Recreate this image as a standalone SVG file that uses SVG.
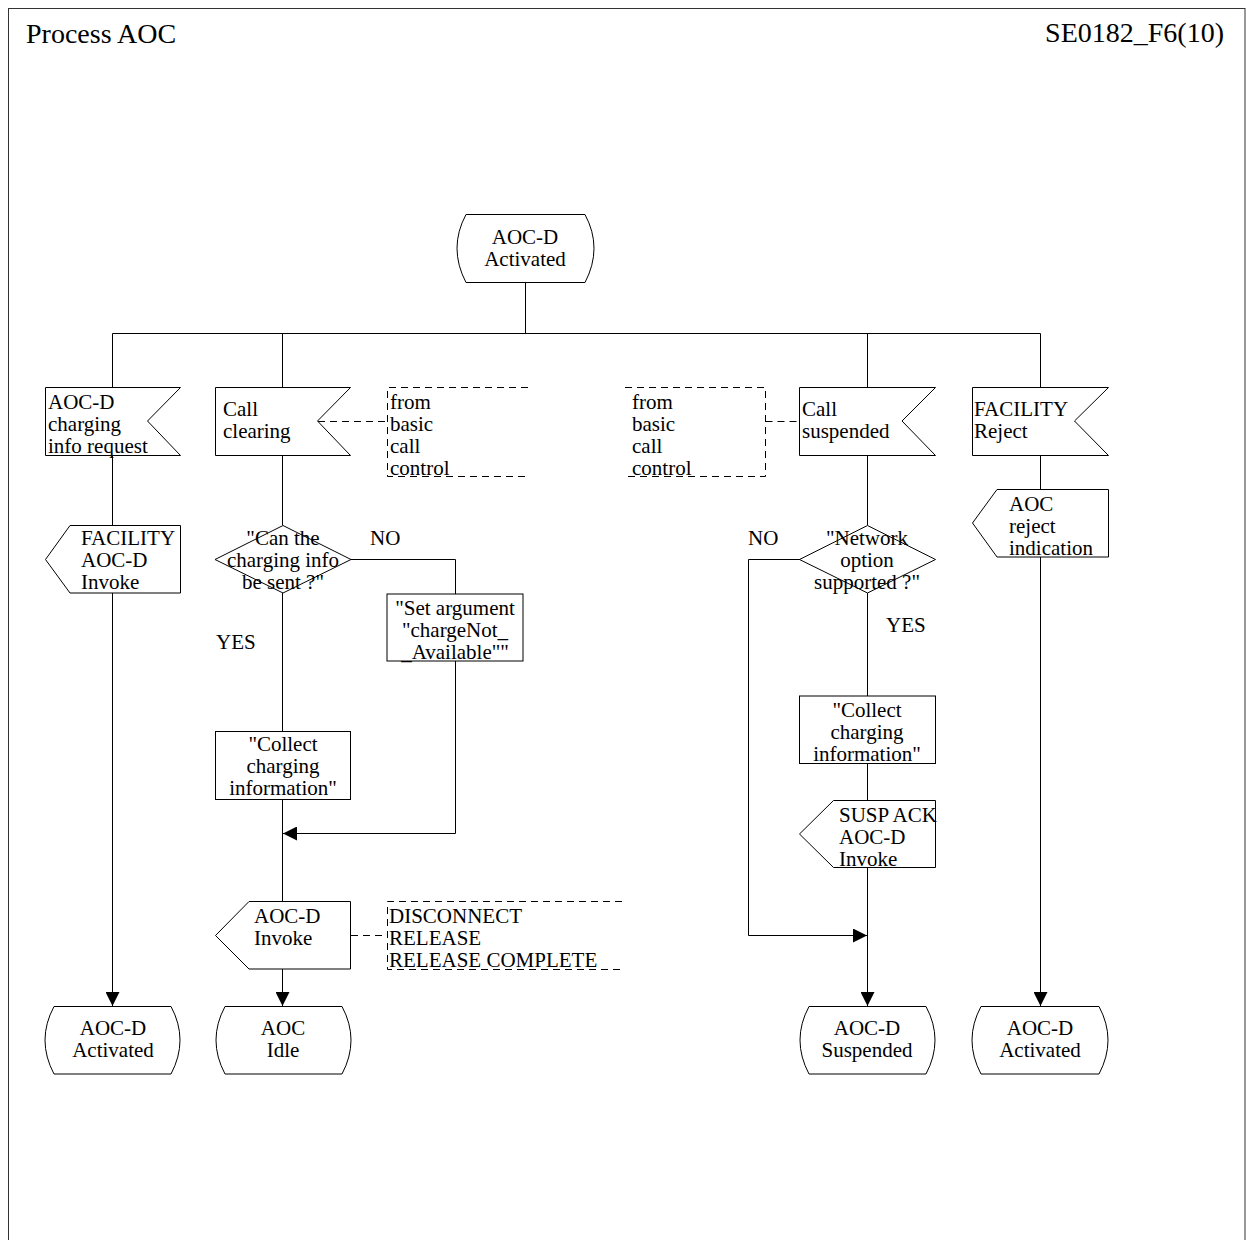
<svg xmlns="http://www.w3.org/2000/svg" width="1246" height="1240" viewBox="0 0 1246 1240">
  <defs>
    <style>
      text { font-family: "Liberation Serif", "Times New Roman", serif; font-size: 21px; fill: #000; }
      .title { font-size: 28px; }
      .c { text-anchor: middle; }
      .shape { fill: #fff; stroke: #000; stroke-width: 1; }
      .line { fill: none; stroke: #000; stroke-width: 1; }
      .dash { fill: none; stroke: #000; stroke-width: 1; stroke-dasharray: 7 5; }
    </style>
    <marker id="arrow" viewBox="0 0 14 14" refX="14" refY="7" markerWidth="14" markerHeight="14" markerUnits="userSpaceOnUse" orient="auto">
      <path d="M0,0 L14,7 L0,14 Z" fill="#000"/>
    </marker>
  </defs>

  <rect x="0" y="0" width="1246" height="1240" fill="#fff"/>

  <!-- page frame and heading -->
  <rect x="8.5" y="8.5" width="1236.5" height="1250" fill="none" stroke="#333" stroke-width="1"/>
  <text class="title" x="26" y="43">Process AOC</text>
  <text class="title" x="1224" y="42" text-anchor="end">SE0182_F6(10)</text>

  <!-- connectors -->
  <g id="connectors">
    <!-- from start state to the signal bus -->
    <path class="line" d="M525.5,282 V333.5"/>
    <path class="line" d="M112.5,333.5 H1040.5"/>
    <path class="line" d="M112.5,333.5 V387"/>
    <path class="line" d="M282.5,333.5 V387"/>
    <path class="line" d="M867.5,333.5 V387"/>
    <path class="line" d="M1040.5,333.5 V387"/>

    <!-- column 1 -->
    <path class="line" d="M112.5,455 V525"/>
    <path class="line" d="M112.5,593 V1006" marker-end="url(#arrow)"/>

    <!-- column 2 -->
    <path class="line" d="M282.5,455 V525"/>
    <path class="line" d="M351,559.5 H455.5 V594"/>
    <path class="line" d="M282.5,593 V731"/>
    <path class="line" d="M455.5,661 V833.5 H283" marker-end="url(#arrow)"/>
    <path class="line" d="M282.5,800 V901"/>
    <path class="line" d="M282.5,969 V1006" marker-end="url(#arrow)"/>

    <!-- column 3 -->
    <path class="line" d="M867.5,455 V525"/>
    <path class="line" d="M800,559.5 H748.5 V935.5 H867" marker-end="url(#arrow)"/>
    <path class="line" d="M867.5,593 V696"/>
    <path class="line" d="M867.5,764 V800"/>
    <path class="line" d="M867.5,868 V1006" marker-end="url(#arrow)"/>

    <!-- column 4 -->
    <path class="line" d="M1040.5,455 V489"/>
    <path class="line" d="M1040.5,557 V1006" marker-end="url(#arrow)"/>

    <!-- comment links -->
    <path class="dash" d="M318,421.5 H387.5"/>
    <path class="dash" d="M765.5,421.5 H800"/>
    <path class="dash" d="M351,935.5 H387.5"/>
  </g>

  <!-- start state -->
  <g id="start-activated">
    <path class="shape" d="M466,214.5 H585 Q603,248 585,282.5 H466 Q448,248 466,214.5 Z"/>
    <text class="c" x="525" y="244">AOC-D</text>
    <text class="c" x="525" y="266">Activated</text>
  </g>

  <!-- input: AOC-D charging info request -->
  <g id="in-charging-request">
    <path class="shape" d="M45.5,387.5 H180.5 L147.5,421 L180.5,455.5 H45.5 Z"/>
    <text x="48" y="409">AOC-D</text>
    <text x="48" y="431">charging</text>
    <text x="48" y="453">info request</text>
  </g>

  <!-- input: Call clearing -->
  <g id="in-call-clearing">
    <path class="shape" d="M215.5,387.5 H350.5 L317.5,421 L350.5,455.5 H215.5 Z"/>
    <text x="223" y="416">Call</text>
    <text x="223" y="438">clearing</text>
  </g>

  <!-- comment: from basic call control (left) -->
  <g id="note-bcc-left">
    <path class="dash" d="M528,387.5 H387.5 V476.5 H528"/>
    <text x="390" y="409">from</text>
    <text x="390" y="431">basic</text>
    <text x="390" y="453">call</text>
    <text x="390" y="475">control</text>
  </g>

  <!-- comment: from basic call control (right) -->
  <g id="note-bcc-right">
    <path class="dash" d="M625,387.5 H765.5 V476.5 H625"/>
    <text x="632" y="409">from</text>
    <text x="632" y="431">basic</text>
    <text x="632" y="453">call</text>
    <text x="632" y="475">control</text>
  </g>

  <!-- input: Call suspended -->
  <g id="in-call-suspended">
    <path class="shape" d="M799.5,387.5 H935.5 L902,421 L935.5,455.5 H799.5 Z"/>
    <text x="802" y="416">Call</text>
    <text x="802" y="438">suspended</text>
  </g>

  <!-- input: FACILITY Reject -->
  <g id="in-facility-reject">
    <path class="shape" d="M972.5,387.5 H1108.5 L1074.5,421 L1108.5,455.5 H972.5 Z"/>
    <text x="974" y="416">FACILITY</text>
    <text x="974" y="438">Reject</text>
  </g>

  <!-- output: FACILITY AOC-D Invoke -->
  <g id="out-facility-invoke">
    <path class="shape" d="M70,525.5 H180.5 V593 H70 L45.5,559.5 Z"/>
    <text x="81" y="545">FACILITY</text>
    <text x="81" y="567">AOC-D</text>
    <text x="81" y="589">Invoke</text>
  </g>

  <!-- decision: can the charging info be sent -->
  <g id="dec-can-send">
    <path class="shape" d="M283,525.5 L351,559.5 L283,593 L215,559.5 Z"/>
    <text class="c" x="283" y="545">"Can the</text>
    <text class="c" x="283" y="567">charging info</text>
    <text class="c" x="283" y="589">be sent ?"</text>
    <text x="370" y="545">NO</text>
    <text x="216" y="649">YES</text>
  </g>

  <!-- task: set argument -->
  <g id="task-set-argument">
    <rect class="shape" x="387" y="594" width="136" height="67"/>
    <text class="c" x="455" y="615">"Set argument</text>
    <text class="c" x="455" y="637">"chargeNot_</text>
    <text class="c" x="455" y="659">_Available""</text>
  </g>

  <!-- task: collect charging information (column 2) -->
  <g id="task-collect-left">
    <rect class="shape" x="215.5" y="731.5" width="135" height="68"/>
    <text class="c" x="283" y="751">"Collect</text>
    <text class="c" x="283" y="773">charging</text>
    <text class="c" x="283" y="795">information"</text>
  </g>

  <!-- output: AOC-D Invoke -->
  <g id="out-aocd-invoke">
    <path class="shape" d="M249,901.5 H350.5 V969 H249 L215.5,935.5 Z"/>
    <text x="254" y="923">AOC-D</text>
    <text x="254" y="945">Invoke</text>
  </g>

  <!-- comment: disconnect messages -->
  <g id="note-disconnect">
    <path class="dash" d="M622,901.5 H387.5 V969.5 H622"/>
    <text x="389" y="923">DISCONNECT</text>
    <text x="389" y="945">RELEASE</text>
    <text x="389" y="967">RELEASE COMPLETE</text>
  </g>

  <!-- decision: network option supported -->
  <g id="dec-network-option">
    <path class="shape" d="M867.5,525.5 L935.5,559.5 L867.5,593 L799.5,559.5 Z"/>
    <text class="c" x="867" y="545">"Network</text>
    <text class="c" x="867" y="567">option</text>
    <text class="c" x="867" y="589">supported ?"</text>
    <text x="748" y="545">NO</text>
    <text x="886" y="632">YES</text>
  </g>

  <!-- task: collect charging information (column 3) -->
  <g id="task-collect-right">
    <rect class="shape" x="799.5" y="696" width="136" height="67.5"/>
    <text class="c" x="867" y="717">"Collect</text>
    <text class="c" x="867" y="739">charging</text>
    <text class="c" x="867" y="761">information"</text>
  </g>

  <!-- output: SUSP ACK AOC-D Invoke -->
  <g id="out-susp-ack">
    <path class="shape" d="M833.5,800.5 H935.5 V867.5 H833.5 L799.5,834 Z"/>
    <text x="839" y="822">SUSP ACK</text>
    <text x="839" y="844">AOC-D</text>
    <text x="839" y="866">Invoke</text>
  </g>

  <!-- output: AOC reject indication -->
  <g id="out-reject-indication">
    <path class="shape" d="M997,489.5 H1108.5 V557 H997 L972.5,523 Z"/>
    <text x="1009" y="511">AOC</text>
    <text x="1009" y="533">reject</text>
    <text x="1009" y="555">indication</text>
  </g>

  <!-- end states -->
  <g id="end-activated-left">
    <path class="shape" d="M54,1006.5 H171 Q189,1040 171,1074 H54 Q36,1040 54,1006.5 Z"/>
    <text class="c" x="113" y="1035">AOC-D</text>
    <text class="c" x="113" y="1057">Activated</text>
  </g>

  <g id="end-idle">
    <path class="shape" d="M225,1006.5 H342 Q360,1040 342,1074 H225 Q207,1040 225,1006.5 Z"/>
    <text class="c" x="283" y="1035">AOC</text>
    <text class="c" x="283" y="1057">Idle</text>
  </g>

  <g id="end-suspended">
    <path class="shape" d="M809,1006.5 H926 Q944,1040 926,1074 H809 Q791,1040 809,1006.5 Z"/>
    <text class="c" x="867" y="1035">AOC-D</text>
    <text class="c" x="867" y="1057">Suspended</text>
  </g>

  <g id="end-activated-right">
    <path class="shape" d="M981,1006.5 H1099 Q1117,1040 1099,1074 H981 Q963,1040 981,1006.5 Z"/>
    <text class="c" x="1040" y="1035">AOC-D</text>
    <text class="c" x="1040" y="1057">Activated</text>
  </g>
</svg>
